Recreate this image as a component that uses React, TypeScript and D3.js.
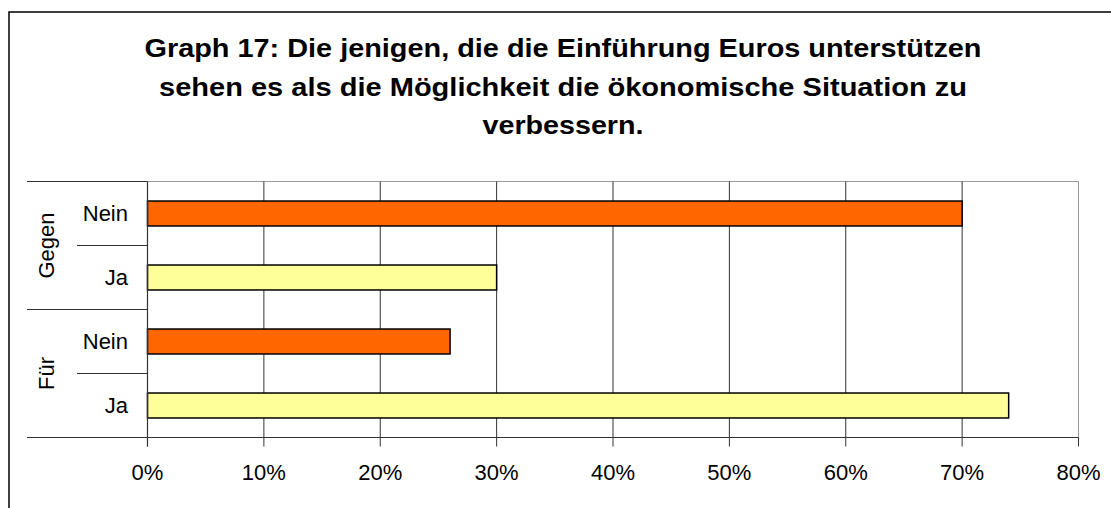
import React from "react";
import * as d3 from "d3";

const titleLines = [
  "Graph 17: Die jenigen, die die Einführung Euros unterstützen",
  "sehen es als die Möglichkeit die ökonomische Situation zu",
  "verbessern.",
];
const titleWidths = [837, 808, 161];

const groups = ["Gegen", "Für"];
const answers = ["Nein", "Ja"];
const gegenValues = [70, 30];
const fuerValues = [26, 74];
const xTicks = [0, 10, 20, 30, 40, 50, 60, 70, 80];
const answerColors = ["#FF6600", "#FFFF99"];

const W = 1111;
const H = 508;
const plot = { left: 147.5, right: 1078.5, top: 181.5, bottom: 437.5 };
const FONT = "'Liberation Sans', Arial, sans-serif";

export default function App() {
  const rows = [
    ...answers.map((a, i) => ({ key: `Gegen-${a}`, group: groups[0], answer: a, idx: i, value: gegenValues[i] })),
    ...answers.map((a, i) => ({ key: `Für-${a}`, group: groups[1], answer: a, idx: i, value: fuerValues[i] })),
  ];

  const x = d3.scaleLinear().domain([0, 80]).range([plot.left, plot.right]);
  const y = d3
    .scaleBand<string>()
    .domain(rows.map((r) => r.key))
    .range([plot.top, plot.bottom])
    .paddingInner(0.61)
    .paddingOuter(0.305);
  const yLine = d3
    .scaleBand<string>()
    .domain(rows.map((r) => r.key))
    .range([plot.top, plot.bottom]);
  const step = yLine.step();

  return (
    <svg
      width={W}
      height={H}
      style={{ position: "absolute", left: 0, top: 0, background: "#fff" }}
      fontFamily={FONT}
    >
      <rect x={9} y={12} width={W + 20} height={H + 20} fill="#fff" stroke="#000" strokeWidth={1.5} />

      {titleLines.map((t, i) => (
        <text
          key={i}
          x={563}
          y={57 + i * 38.5}
          textAnchor="middle"
          fontSize={25}
          fontWeight="bold"
          textLength={titleWidths[i]}
          lengthAdjust="spacingAndGlyphs"
          fill="#000"
        >
          {t}
        </text>
      ))}

      {/* plot border (light) */}
      <line x1={plot.left} x2={plot.right} y1={plot.top} y2={plot.top} stroke="#999" strokeWidth={1} />
      <line x1={plot.right} x2={plot.right} y1={plot.top} y2={plot.bottom} stroke="#999" strokeWidth={1} />

      {/* gridlines */}
      {xTicks.slice(1, -1).map((t) => (
        <line key={t} x1={x(t)} x2={x(t)} y1={plot.top} y2={plot.bottom} stroke="#333" strokeWidth={1} />
      ))}

      {/* bars */}
      {rows.map((r) => (
        <rect
          key={r.key}
          x={x(0)}
          y={y(r.key)!}
          width={x(r.value) - x(0)}
          height={y.bandwidth()}
          fill={answerColors[r.idx]}
          stroke="#000"
          strokeWidth={1.5}
        />
      ))}

      {/* x axis */}
      <line x1={100} x2={plot.right} y1={plot.bottom} y2={plot.bottom} stroke="#333" strokeWidth={1.2} />
      {xTicks.map((t) => (
        <g key={t}>
          <line x1={x(t)} x2={x(t)} y1={plot.bottom} y2={plot.bottom + 9} stroke="#333" strokeWidth={1} />
          <text x={x(t)} y={480} textAnchor="middle" fontSize={22} fill="#000">
            {t}%
          </text>
        </g>
      ))}

      {/* y axis */}
      <line x1={plot.left} x2={plot.left} y1={plot.top} y2={plot.bottom + 9} stroke="#333" strokeWidth={1.2} />
      {/* category dividers */}
      {rows.map((r, i) => (
        <line
          key={`d-${r.key}`}
          x1={i % 2 === 0 ? 27 : 77}
          x2={plot.left}
          y1={yLine(r.key)!}
          y2={yLine(r.key)!}
          stroke="#333"
          strokeWidth={1}
        />
      ))}
      <line x1={27} x2={plot.left} y1={plot.bottom} y2={plot.bottom} stroke="#333" strokeWidth={1} />

      {/* category labels */}
      {rows.map((r) => (
        <text
          key={`l-${r.key}`}
          x={128}
          y={yLine(r.key)! + step / 2}
          dy="0.36em"
          textAnchor="end"
          fontSize={22}
          fill="#000"
        >
          {r.answer}
        </text>
      ))}

      {/* group labels */}
      {groups.map((g, gi) => {
        const cy = plot.top + step * (gi * 2 + 1);
        return (
          <text
            key={g}
            transform={`translate(54,${cy}) rotate(-90)`}
            textAnchor="middle"
            fontSize={22}
            fill="#000"
          >
            {g}
          </text>
        );
      })}
    </svg>
  );
}
